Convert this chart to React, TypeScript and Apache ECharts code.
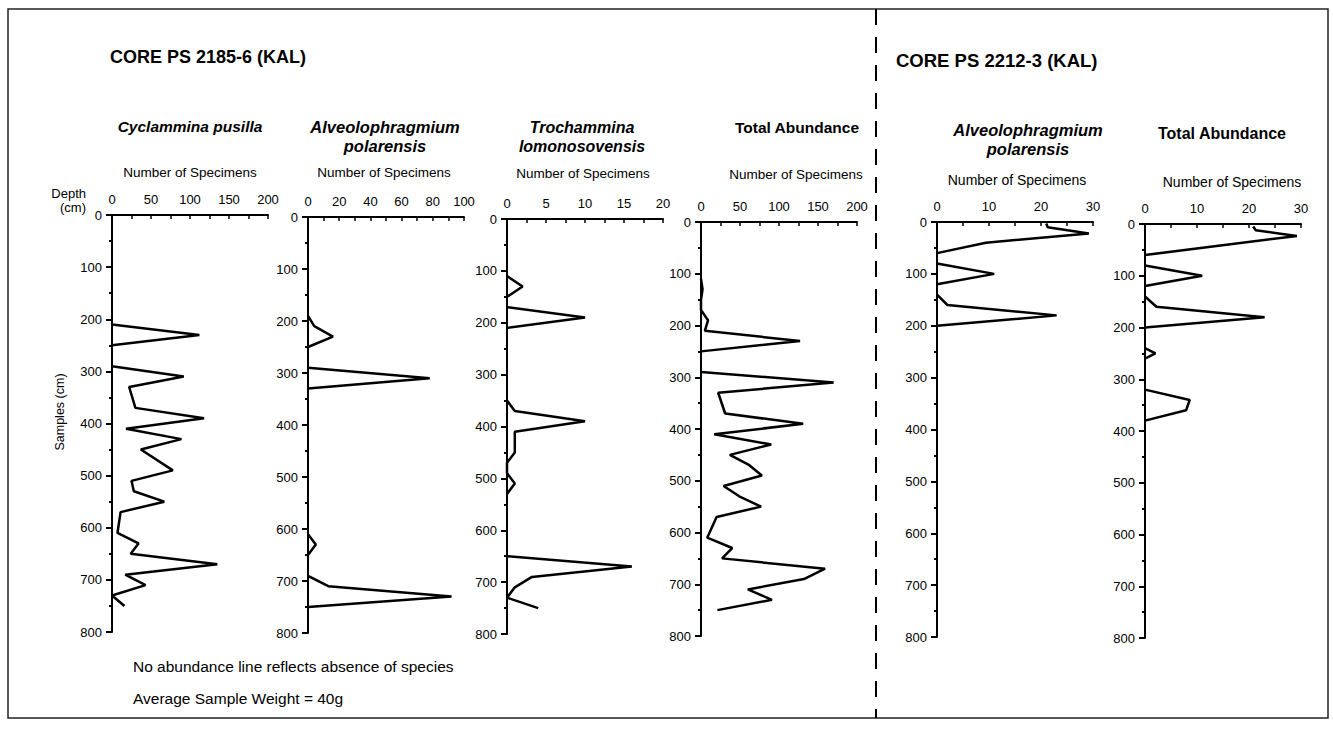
import React, { useEffect, useRef } from "react";
import * as echarts from "echarts";

// ---------- DATA ----------
// Core PS 2185-6 (KAL)
const p1Depth = [210, 230, 250, null, 290, 310, 330, 370, 390, 410, 430, 450, 490, 510, 530, 550, 570, 610, 630, 650, 670, 690, 710, 730, 750];
const p1Value = [0, 112, 0, null, 0, 92, 22, 30, 118, 18, 89, 37, 78, 25, 28, 67, 11, 7, 34, 24, 135, 17, 43, 0, 16];

const p2Depth = [190, 210, 230, 250, null, 290, 310, 330, null, 610, 630, 650, null, 690, 710, 730, 750];
const p2Value = [0, 4, 16, 0, null, 0, 78, 0, null, 0, 5, 0, null, 0, 13, 92, 0];

const p3Depth = [110, 130, 150, null, 170, 190, 210, null, 350, 370, 390, 410, 450, 470, 490, 510, 530, null, 650, 670, 690, 710, 730, 750];
const p3Value = [0, 2, 0, null, 0, 10, 0, null, 0, 1, 10, 1, 1, 0, 0, 1, 0, null, 0, 16, 3.2, 1, 0, 4];

const p4Depth = [110, 130, 150, 170, 190, 210, 230, 250, null, 290, 310, 330, 370, 390, 410, 430, 450, 470, 490, 510, 530, 550, 570, 610, 630, 650, 670, 690, 710, 730, 750];
const p4Value = [0, 2, 0, 0, 9, 5, 127, 0, null, 0, 170, 22, 31, 131, 17, 90, 37, 62, 78, 29, 49, 77, 20, 8, 40, 27, 159, 132, 60, 91, 21];

// Core PS 2212-3 (KAL)
const p5Depth = [3, 10, 22, 40, 60, null, 80, 100, 120, null, 140, 160, 180, 200];
const p5Value = [21, 21.3, 29.2, 9.4, 0, null, 0, 11, 0, null, 0, 2, 23, 0];

const p6Depth = [5, 12, 23, 60, null, 80, 100, 120, null, 140, 160, 180, 200, null, 240, 250, 260, null, 320, 340, 360, 380];
const p6Value = [20.8, 21.3, 29.2, 0, null, 0, 11, 0, null, 0, 2.2, 23, 0, null, 0, 2, 0, null, 0, 8.6, 7.9, 0];

const xMaxes = [200, 100, 20, 200, 30, 30];
const xIntervals = [50, 20, 5, 50, 10, 10];
const depthMax = 800;
const depthInterval = 100;

const coreTitles = ["CORE PS 2185-6 (KAL)", "CORE PS 2212-3 (KAL)"];
const panelTitles = [
  ["Cyclammina pusilla"],
  ["Alveolophragmium", "polarensis"],
  ["Trochammina", "lomonosovensis"],
  ["Total Abundance"],
  ["Alveolophragmium", "polarensis"],
  ["Total Abundance"],
];
const xAxisName = "Number of Specimens";
const notes = ["No abundance line reflects absence of species", "Average Sample Weight = 40g"];

// ---------- LAYOUT ----------
const FONT = "'Liberation Sans', Arial, Helvetica, sans-serif";
const grids = [
  { left: 112, top: 215, width: 156, height: 417 },
  { left: 308, top: 217, width: 156, height: 416 },
  { left: 507, top: 219, width: 156, height: 415 },
  { left: 701, top: 222, width: 156, height: 414 },
  { left: 937, top: 222, width: 156, height: 415 },
  { left: 1145, top: 224, width: 156, height: 414 },
];
const titleItalic = [true, true, true, false, true, false];
const titleSize = [15.5, 16.5, 16, 15.5, 16.5, 16];
const titlePos = [
  { x: 190, y: 126 },
  { x: 385, y: 127 },
  { x: 582, y: 127 },
  { x: 797, y: 127 },
  { x: 1028, y: 130 },
  { x: 1222, y: 133 },
];
const specPos = [
  { x: 190, y: 172, s: 13.5 },
  { x: 384, y: 172, s: 13.5 },
  { x: 583, y: 173, s: 13.5 },
  { x: 796, y: 174, s: 13.5 },
  { x: 1017, y: 180, s: 14 },
  { x: 1232, y: 182, s: 14 },
];

const allDepths = [p1Depth, p2Depth, p3Depth, p4Depth, p5Depth, p6Depth];
const allValues = [p1Value, p2Value, p3Value, p4Value, p5Value, p6Value];

function segments(depths: (number | null)[], values: (number | null)[]) {
  const segs: number[][][] = [];
  let cur: number[][] = [];
  for (let i = 0; i < depths.length; i++) {
    const d = depths[i];
    const v = values[i];
    if (d === null || v === null) {
      if (cur.length) segs.push(cur);
      cur = [];
    } else {
      cur.push([v, d]);
    }
  }
  if (cur.length) segs.push(cur);
  return segs;
}

export default function App() {
  const ref = useRef<HTMLDivElement>(null);

  useEffect(() => {
    if (!ref.current) return;
    const chart = echarts.init(ref.current, undefined, { renderer: "svg" });

    const xAxes = grids.map((_, i) => ({
      type: "value",
      gridIndex: i,
      position: "top",
      min: 0,
      max: xMaxes[i],
      interval: xIntervals[i],
      axisLine: { show: true, onZero: false, lineStyle: { color: "#000", width: 2 } },
      axisTick: { show: true, inside: true, length: 4, lineStyle: { color: "#000", width: 1.5 } },
      minorTick: { show: true, splitNumber: 2, length: 4, lineStyle: { color: "#000", width: 1.5 } },
      splitLine: { show: false },
      axisLabel: { color: "#000", fontSize: 13, fontFamily: FONT, margin: 9 },
    }));

    const yAxes = grids.map((_, i) => ({
      type: "value",
      gridIndex: i,
      inverse: true,
      min: 0,
      max: depthMax,
      interval: depthInterval,
      axisLine: { show: true, onZero: false, lineStyle: { color: "#000", width: 2 } },
      axisTick: { show: true, length: 6, lineStyle: { color: "#000", width: 2 } },
      minorTick: { show: true, splitNumber: 2, length: 3, lineStyle: { color: "#000", width: 2 } },
      splitLine: { show: false },
      axisLabel: { color: "#000", fontSize: 13, fontFamily: FONT, margin: 10 },
    }));

    const series: any[] = [];
    allDepths.forEach((dArr, i) => {
      segments(dArr, allValues[i]).forEach((seg) => {
        series.push({
          type: "line",
          xAxisIndex: i,
          yAxisIndex: i,
          data: seg,
          showSymbol: false,
          symbol: "none",
          lineStyle: { color: "#000", width: 2.5 },
          z: 3,
        });
      });
    });

    const graphics: any[] = [];
    graphics.push({
      type: "rect",
      shape: { x: 8, y: 9, width: 1320, height: 709 },
      style: { fill: "none", stroke: "#222", lineWidth: 1.5 },
    });
    graphics.push({
      type: "line",
      shape: { x1: 876, y1: 9, x2: 876, y2: 718 },
      style: { stroke: "#000", lineWidth: 2, lineDash: [16, 12] },
    });
    graphics.push({
      type: "text",
      x: 110,
      y: 57,
      style: { text: coreTitles[0], font: `bold 18px ${FONT}`, fill: "#000", textVerticalAlign: "middle" },
    });
    graphics.push({
      type: "text",
      x: 896,
      y: 60,
      style: { text: coreTitles[1], font: `bold 18.5px ${FONT}`, fill: "#000", textVerticalAlign: "middle" },
    });
    panelTitles.forEach((lines, i) => {
      lines.forEach((t, k) => {
        graphics.push({
          type: "text",
          x: titlePos[i].x,
          y: titlePos[i].y + k * 19,
          style: {
            text: t,
            font: `${titleItalic[i] ? "italic " : ""}bold ${titleSize[i]}px ${FONT}`,
            fill: "#000",
            textAlign: "center",
            textVerticalAlign: "middle",
          },
        });
      });
      graphics.push({
        type: "text",
        x: specPos[i].x,
        y: specPos[i].y,
        style: {
          text: xAxisName,
          font: `${specPos[i].s}px ${FONT}`,
          fill: "#000",
          textAlign: "center",
          textVerticalAlign: "middle",
        },
      });
    });
    graphics.push({
      type: "text",
      x: 86,
      y: 193,
      style: { text: "Depth", font: `13px ${FONT}`, fill: "#000", textAlign: "right", textVerticalAlign: "middle" },
    });
    graphics.push({
      type: "text",
      x: 86,
      y: 207,
      style: { text: "(cm)", font: `13px ${FONT}`, fill: "#000", textAlign: "right", textVerticalAlign: "middle" },
    });
    graphics.push({
      type: "text",
      x: 60,
      y: 412,
      rotation: Math.PI / 2,
      style: { text: "Samples (cm)", font: `12.5px ${FONT}`, fill: "#000", textAlign: "center", textVerticalAlign: "middle" },
    });
    notes.forEach((t, k) => {
      graphics.push({
        type: "text",
        x: 133,
        y: 666 + k * 32,
        style: { text: t, font: `15.5px ${FONT}`, fill: "#000", textVerticalAlign: "middle" },
      });
    });

    chart.setOption({
      animation: false,
      backgroundColor: "#fff",
      grid: grids.map((g) => ({ ...g, containLabel: false })),
      xAxis: xAxes,
      yAxis: yAxes,
      series,
      graphic: graphics,
    });

    return () => chart.dispose();
  }, []);

  return (
    <div
      ref={ref}
      style={{ position: "fixed", left: 0, top: 0, width: 1333, height: 731, background: "#fff" }}
    />
  );
}
